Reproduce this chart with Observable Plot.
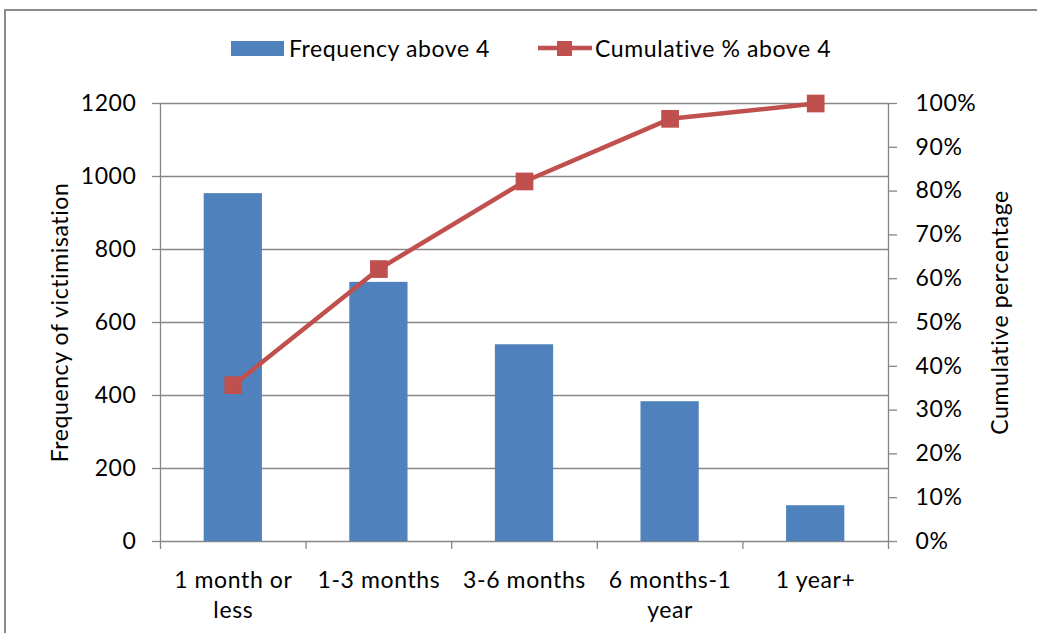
<!DOCTYPE html>
<html><head><meta charset="utf-8">
<script src="https://cdn.jsdelivr.net/npm/d3@7"></script>
<script src="https://cdn.jsdelivr.net/npm/@observablehq/plot@0.6"></script>
<style>
body{margin:0;background:#fff;overflow:hidden;}
#wrap{position:relative;width:1037px;height:633px;overflow:hidden;font-family:Lato,"Open Sans",sans-serif;}
#border{position:absolute;left:4px;top:9px;width:1060px;height:660px;border:2px solid #8c8c8c;box-sizing:border-box;}
#chart{position:absolute;left:0;top:0;}
#chart svg text{letter-spacing:0.6px;}
#legend{position:absolute;top:34px;left:231px;display:flex;align-items:center;font-size:23px;letter-spacing:0.6px;color:#000;}
.sw{display:inline-block;}
</style></head>
<body><div id="wrap"><div id="border"></div><div id="chart"></div><div id="legend"></div></div>
<script>
const categories = ["1 month or\nless", "1-3 months", "3-6 months", "6 months-1\nyear", "1 year+"];
const frequency = [953, 710, 539, 383, 98];
const cumulativePct = [35.7, 62.2, 82.2, 96.5, 100];
const leftTicks = [0, 200, 400, 600, 800, 1000, 1200];
const rightTicks = [0, 10, 20, 30, 40, 50, 60, 70, 80, 90, 100];
const seriesNames = ["Frequency above 4", "Cumulative % above 4"];
const axisTitles = ["Frequency of victimisation", "Cumulative percentage"];

const blue = "#4F81BD", red = "#C0504D", grey = "#868686";
const data = categories.map((c, i) => ({cat: c, i, freq: frequency[i], pct: cumulativePct[i]}));
const boundaries = d3.range(categories.length + 1);

const chart = Plot.plot({
  width: 1037, height: 633,
  marginTop: 103, marginBottom: 92, marginLeft: 160, marginRight: 149,
  style: {fontFamily: "Lato, 'Open Sans', sans-serif", fontSize: "23px", background: "transparent", color: "#000"},
  x: {type: "linear", domain: [0, categories.length], axis: null},
  y: {domain: [0, 1200], axis: null},
  marks: [
    Plot.ruleY(leftTicks, {stroke: grey, strokeWidth: 1.3, strokeOpacity: 1}),
    Plot.rectY(data, {x1: d => d.i + 0.3, x2: d => d.i + 0.7, y1: 0, y2: "freq", fill: blue}),
    Plot.ruleX([0, categories.length], {y1: 0, y2: 1200, stroke: grey, strokeWidth: 1.3}),
    Plot.axisY({anchor: "left", ticks: leftTicks, tickFormat: d3.format("d"), tickSize: 8, tickPadding: 16, stroke: grey, strokeWidth: 1.3, label: null, fontSize: 23}),
    Plot.axisY({anchor: "right", ticks: rightTicks.map(p => p * 12), tickFormat: v => Math.round(v / 12) + "%", tickSize: 8, tickPadding: 19, stroke: grey, strokeWidth: 1.3, label: null, fontSize: 23}),
    Plot.axisX({anchor: "bottom", ticks: boundaries, tickSize: 8, tickFormat: () => "", stroke: grey, strokeWidth: 1.3, label: null}),
    Plot.text(data, {x: d => d.i + 0.5, y: 0, text: "cat", dy: 25, lineAnchor: "top", lineHeight: 1.32, fontSize: 23}),
    Plot.line(data, {x: d => d.i + 0.5, y: d => d.pct * 12, stroke: red, strokeWidth: 4.5}),
    Plot.dot(data, {x: d => d.i + 0.5, y: d => d.pct * 12, symbol: "square", r: 10, fill: red, stroke: null}),
    Plot.text([axisTitles[0]], {frameAnchor: "left", text: d => d, rotate: -90, textAnchor: "middle", dx: -100, fontSize: 23}),
    Plot.text([axisTitles[1]], {frameAnchor: "right", text: d => d, rotate: -90, textAnchor: "middle", dx: 112, dy: -10, fontSize: 23})
  ]
});
document.getElementById("chart").appendChild(chart);

const legend = document.getElementById("legend");
legend.innerHTML =
  `<span class="sw" style="width:53px;height:15px;background:${blue}"></span>` +
  `<span style="margin-left:5px">${seriesNames[0]}</span>` +
  `<svg width="54" height="20" style="margin-left:48px"><line x1="0" x2="54" y1="10" y2="10" stroke="${red}" stroke-width="4.5"/><rect x="19" y="3" width="15" height="15" fill="${red}"/></svg>` +
  `<span style="margin-left:3px">${seriesNames[1]}</span>`;
</script></body></html>
